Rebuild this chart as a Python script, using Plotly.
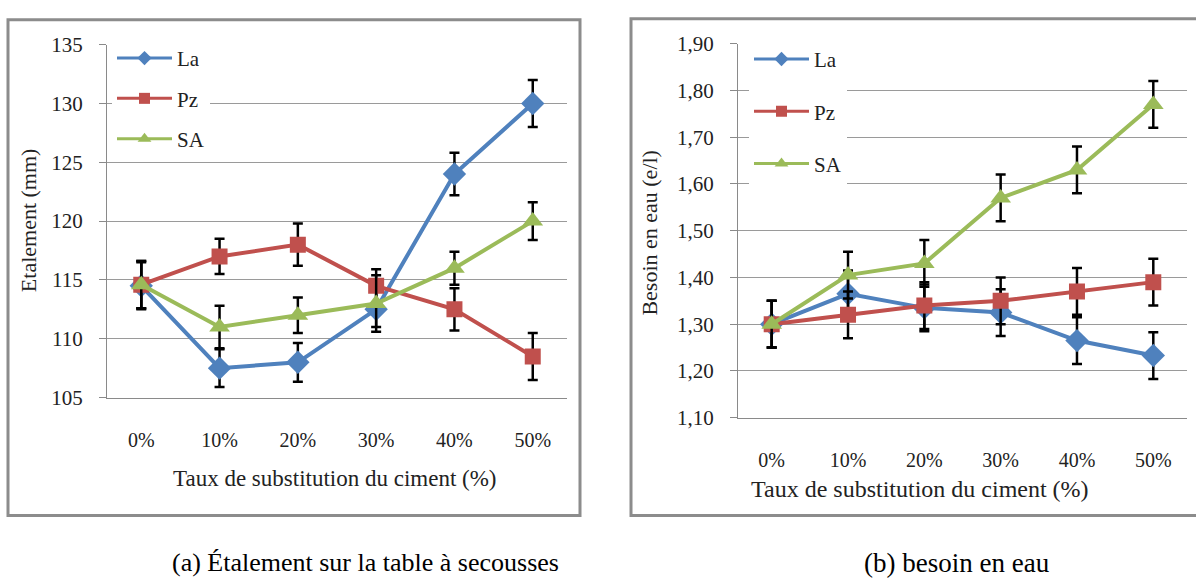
import plotly.graph_objects as go

W, H = 1196, 588

categories = ["0%", "10%", "20%", "30%", "40%", "50%"]
series_names = ["La", "Pz", "SA"]

# (a) Etalement (mm)
etal_la = [114.5, 107.5, 108.0, 112.5, 124.0, 130.0]
etal_la_err = [2.0, 1.6, 1.65, 1.5, 1.8, 2.0]
etal_pz = [114.6, 117.0, 118.0, 114.5, 112.5, 108.5]
etal_pz_err = [2.0, 1.5, 1.8, 1.4, 1.8, 2.0]
etal_sa = [114.6, 111.0, 112.0, 113.0, 116.0, 120.0]
etal_sa_err = [2.0, 1.8, 1.5, 2.4, 1.4, 1.6]

# (b) Besoin en eau (e/l)
eau_la = [1.30, 1.365, 1.335, 1.325, 1.265, 1.233]
eau_la_err = [0.05, 0.05, 0.05, 0.05, 0.05, 0.05]
eau_pz = [1.30, 1.32, 1.34, 1.35, 1.37, 1.39]
eau_pz_err = [0.05, 0.05, 0.05, 0.05, 0.05, 0.05]
eau_sa = [1.30, 1.405, 1.43, 1.57, 1.63, 1.77]
eau_sa_err = [0.05, 0.05, 0.05, 0.05, 0.05, 0.05]

colors = ["#4F81BD", "#C0504D", "#9BBB59"]
symbols = ["diamond", "square", "triangle-up"]
msizes = [18, 16, 18]
leg_sizes = [11, 11, 12]

FONT = "Liberation Serif"
GRID = "#9a9a9a"
AXIS = "#8a8a8a"

def px_x(p):
    return p / W

def px_y(p):
    return 1 - p / H

fig = go.Figure()

panels = [
    ([etal_la, etal_pz, etal_sa], [etal_la_err, etal_pz_err, etal_sa_err], "x", "y", "legend"),
    ([eau_la, eau_pz, eau_sa], [eau_la_err, eau_pz_err, eau_sa_err], "x2", "y2", "legend2"),
]

for vals, errs, xa, ya, leg in panels:
    for i, name in enumerate(series_names):
        fig.add_trace(go.Scatter(
            x=categories, y=vals[i], name=name, mode="lines+markers",
            xaxis=xa, yaxis=ya, showlegend=False,
            line=dict(color=colors[i], width=4),
            marker=dict(symbol=symbols[i], size=msizes[i], color=colors[i]),
            error_y=dict(type="data", array=errs[i], color="black",
                         thickness=2.5, width=5),
        ))
    for i, name in enumerate(series_names):
        fig.add_trace(go.Scatter(
            x=[None], y=[None], name=name, mode="lines+markers",
            xaxis=xa, yaxis=ya, legend=leg, legendgroup=leg + name,
            line=dict(color=colors[i], width=3),
            marker=dict(symbol=symbols[i], size=leg_sizes[i], color=colors[i]),
        ))

yax_common = dict(showline=True, linecolor=AXIS, linewidth=1, ticks="outside",
                  ticklen=7, tickcolor=AXIS, showgrid=True, gridcolor=GRID,
                  gridwidth=1, zeroline=False, fixedrange=True,
                  tickfont=dict(family=FONT, size=21, color="#222"))
xax_common = dict(showline=True, linecolor=AXIS, linewidth=1, ticks="",
                  showgrid=False, zeroline=False, type="category",
                  tickfont=dict(family=FONT, size=20, color="#222"))

fig.update_layout(
    width=W, height=H, margin=dict(l=0, r=0, t=0, b=0),
    paper_bgcolor="white", plot_bgcolor="white",
    separators=", ",
    xaxis=dict(domain=[px_x(107), px_x(567)], anchor="y", ticklabelstandoff=24, **xax_common),
    yaxis=dict(domain=[px_y(402), px_y(34)], anchor="x", range=[105, 135], dtick=5,
               ticklabelstandoff=12, **yax_common),
    xaxis2=dict(domain=[px_x(738), px_x(1187)], anchor="y2", ticklabelstandoff=24, **xax_common),
    yaxis2=dict(domain=[px_y(423), px_y(33)], anchor="x2", range=[1.10, 1.90], dtick=0.1,
                tickformat=".2f", ticklabelstandoff=12, **yax_common),
    legend=dict(x=px_x(112), y=px_y(27), xanchor="left", yanchor="top",
                bgcolor="white", itemwidth=55, tracegroupgap=10,
                font=dict(family=FONT, size=21, color="#222")),
    legend2=dict(x=px_x(749), y=px_y(28), xanchor="left", yanchor="top",
                 bgcolor="white", itemwidth=55, tracegroupgap=22,
                 font=dict(family=FONT, size=21, color="#222")),
    showlegend=True,
)

# panel frames
fig.add_shape(type="rect", xref="paper", yref="paper",
              x0=px_x(8), x1=px_x(580), y0=px_y(525), y1=px_y(8),
              line=dict(color="#8c8c8c", width=3), layer="below")
fig.add_shape(type="rect", xref="paper", yref="paper",
              x0=px_x(631), x1=px_x(1199), y0=px_y(525), y1=px_y(7),
              line=dict(color="#8c8c8c", width=3), layer="below")

ann = dict(xref="paper", yref="paper", showarrow=False,
           xanchor="center", yanchor="middle")
fig.add_annotation(text="Etalement (mm)", x=px_x(28), y=px_y(217), textangle=-90,
                   font=dict(family=FONT, size=22, color="#222"), **ann)
fig.add_annotation(text="Besoin en eau (e/l)", x=px_x(650), y=px_y(230), textangle=-90,
                   font=dict(family=FONT, size=22, color="#222"), **ann)
fig.add_annotation(text="Taux de substitution du ciment (%)", x=px_x(335), y=px_y(486),
                   font=dict(family=FONT, size=23, color="#222"), **ann)
fig.add_annotation(text="Taux de substitution du ciment (%)", x=px_x(920), y=px_y(497),
                   font=dict(family=FONT, size=24, color="#222"), **ann)
fig.add_annotation(text="(a) Étalement sur la table à secousses", x=px_x(365), y=px_y(574),
                   font=dict(family=FONT, size=26, color="black"), **ann)
fig.add_annotation(text="(b) besoin en eau", x=px_x(957), y=px_y(574),
                   font=dict(family=FONT, size=27, color="black"), **ann)

fig.write_html("out.html")
